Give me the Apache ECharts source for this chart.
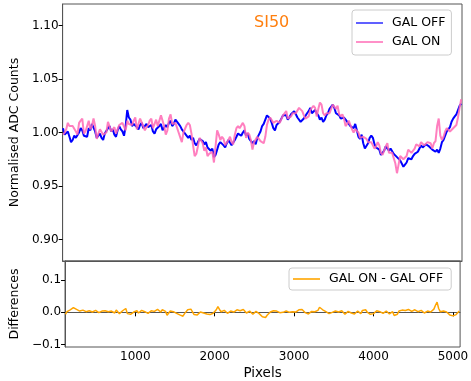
<!DOCTYPE html>
<html>
<head>
<meta charset="utf-8">
<script src="https://cdn.jsdelivr.net/npm/echarts@6/dist/echarts.min.js"></script>
<style>
    html,body{margin:0;padding:0;background:#fff;}
    #chart{width:471px;height:381px;}
</style>
</head>
<body>
<div id="chart"></div>
<script type="text/javascript">
// detector pixel positions (x)
const pixels = [120,140,160,180,200,220,240,260,280,300,320,340,360,380,400,420,440,460,480,500,
    520,540,560,580,600,620,640,660,680,700,720,740,760,780,800,820,840,860,880,900,
    920,940,960,980,1000,1020,1040,1060,1080,1100,1120,1140,1160,1180,1200,1220,1240,1260,1280,1300,
    1320,1340,1360,1380,1400,1420,1440,1460,1480,1500,1520,1540,1560,1580,1600,1620,1640,1660,1680,1700,
    1720,1740,1760,1780,1800,1820,1840,1860,1880,1900,1920,1940,1960,1980,2000,2020,2040,2060,2080,2100,
    2120,2140,2160,2180,2200,2220,2240,2260,2280,2300,2320,2340,2360,2380,2400,2420,2440,2460,2480,2500,
    2520,2540,2560,2580,2600,2620,2640,2660,2680,2700,2720,2740,2760,2780,2800,2820,2840,2860,2880,2900,
    2920,2940,2960,2980,3000,3020,3040,3060,3080,3100,3120,3140,3160,3180,3200,3220,3240,3260,3280,3300,
    3320,3340,3360,3380,3400,3420,3440,3460,3480,3500,3520,3540,3560,3580,3600,3620,3640,3660,3680,3700,
    3720,3740,3760,3780,3800,3820,3840,3860,3880,3900,3920,3940,3960,3980,4000,4020,4040,4060,4080,4100,
    4120,4140,4160,4180,4200,4220,4240,4260,4280,4300,4320,4340,4360,4380,4400,4420,4440,4460,4480,4500,
    4520,4540,4560,4580,4600,4620,4640,4660,4680,4700,4720,4740,4760,4780,4800,4820,4840,4860,4880,4900,
    4920,4940,4960,4980,5000,5020,5040,5060,5080];
// GAL OFF normalised counts
const galOff = [1.004,0.998,0.999,1.001,0.996,0.991,0.993,0.997,0.995,0.994,1.000,1.004,1.002,0.997,0.998,0.996,1.004,1.002,1.008,1.007,
    1.001,0.995,0.997,0.999,0.995,0.993,0.999,0.998,1.004,1.006,1.001,1.003,0.998,0.996,1.002,1.006,1.003,1.001,0.997,1.006,
    1.021,1.014,1.012,1.006,1.008,1.009,1.005,1.003,1.007,1.009,1.004,1.003,1.008,1.005,1.006,1.007,1.001,0.999,1.003,1.002,
    1.006,1.008,1.002,1.003,1.007,1.005,1.009,1.011,1.006,1.008,1.012,1.013,1.008,1.006,1.003,1.004,0.999,0.999,0.995,0.997,
    0.993,0.995,0.990,0.988,0.991,0.994,0.993,0.992,0.989,0.991,0.986,0.987,0.983,0.985,0.977,0.979,0.984,0.989,0.991,0.992,
    0.988,0.986,0.990,0.993,0.992,0.988,0.988,0.993,0.996,0.999,0.999,0.997,1.000,1.002,0.997,0.999,0.994,0.995,0.990,0.992,
    0.989,0.995,0.998,1.001,1.006,1.008,1.012,1.016,1.015,1.013,1.009,1.004,1.002,1.007,1.008,1.010,1.013,1.016,1.015,1.016,
    1.012,1.014,1.017,1.016,1.020,1.017,1.014,1.015,1.010,1.011,1.013,1.014,1.018,1.020,1.023,1.018,1.019,1.021,1.018,1.016,
    1.012,1.014,1.010,1.012,1.016,1.018,1.022,1.021,1.026,1.023,1.018,1.019,1.016,1.013,1.012,1.014,1.012,1.011,1.008,1.006,
    1.005,1.004,1.008,1.002,0.996,0.994,0.998,0.990,0.985,0.986,0.990,0.995,0.997,0.995,0.989,0.986,0.986,0.984,0.979,0.980,
    0.983,0.987,0.986,0.983,0.985,0.984,0.980,0.981,0.977,0.976,0.974,0.973,0.968,0.970,0.972,0.976,0.975,0.975,0.978,0.980,
    0.981,0.982,0.985,0.988,0.986,0.986,0.989,0.990,0.987,0.987,0.984,0.985,0.982,0.984,0.981,0.985,0.991,0.993,0.997,1.001,
    1.002,1.005,1.010,1.013,1.015,1.017,1.021,1.025,1.027];
// GAL ON normalised counts
const galOn = [0.998,1.000,1.003,1.009,1.006,1.006,1.006,1.006,1.001,0.998,1.009,1.011,1.013,0.999,1.001,1.001,1.011,1.003,1.006,1.013,
    1.006,0.994,0.999,1.003,1.003,0.998,0.998,1.000,1.010,1.010,1.001,1.001,1.005,0.999,0.998,1.007,1.008,1.009,1.009,1.002,
    1.011,1.008,1.008,1.007,1.011,1.014,1.003,1.004,1.013,1.013,1.006,1.002,1.005,1.007,1.011,1.013,1.004,1.004,1.012,1.006,
    1.007,1.016,1.016,1.006,0.998,1.002,1.013,1.017,1.008,1.008,1.009,1.008,1.000,1.000,0.991,1.000,1.001,1.007,1.009,1.007,
    0.999,0.988,0.978,0.980,0.987,0.995,0.996,0.990,0.983,0.986,0.978,0.980,0.979,0.982,0.972,0.987,1.002,0.998,0.993,0.996,
    0.994,0.988,0.987,0.993,0.996,0.991,0.989,0.998,1.004,1.006,1.004,1.003,1.009,1.006,0.995,1.000,0.998,0.993,0.984,0.991,
    0.992,0.996,0.994,0.992,0.992,0.990,0.996,1.007,1.012,1.014,1.013,1.009,1.008,1.011,1.010,1.009,1.009,1.016,1.018,1.020,
    1.013,1.014,1.015,1.018,1.017,1.018,1.018,1.023,1.022,1.020,1.016,1.013,1.014,1.015,1.021,1.021,1.025,1.023,1.015,1.022,
    1.028,1.026,1.018,1.016,1.018,1.017,1.018,1.019,1.026,1.026,1.022,1.025,1.017,1.015,1.017,1.013,1.006,1.008,1.011,1.007,
    1.003,1.000,1.003,1.002,1.000,0.995,0.994,0.996,0.997,0.994,0.991,0.992,0.991,0.988,0.985,0.987,0.991,0.988,0.981,0.979,
    0.980,0.987,0.990,0.981,0.980,0.981,0.982,0.971,0.962,0.970,0.978,0.979,0.975,0.974,0.978,0.984,0.984,0.981,0.981,0.985,
    0.989,0.988,0.987,0.991,0.992,0.988,0.987,0.991,0.991,0.990,0.985,0.990,0.992,1.006,1.013,0.997,0.993,0.996,1.001,1.004,
    1.003,1.001,1.002,1.004,1.004,1.007,1.014,1.023,1.031];
// GAL ON - GAL OFF
const differences = [-0.006,0.002,0.004,0.008,0.010,0.015,0.013,0.009,0.006,0.004,0.009,0.007,0.011,0.002,0.003,0.005,0.007,0.001,-0.002,0.006,
    0.005,-0.001,0.002,0.004,0.008,0.005,-0.001,0.002,0.006,0.004,0.000,-0.002,0.007,0.003,-0.004,0.001,0.005,0.008,0.012,-0.004,
    -0.010,-0.006,-0.004,0.001,0.003,0.005,-0.002,0.001,0.006,0.004,0.002,-0.001,-0.003,0.002,0.005,0.006,0.003,0.005,0.009,0.004,
    0.001,0.008,0.014,0.003,-0.009,-0.003,0.004,0.006,0.002,0.000,-0.003,-0.005,-0.008,-0.006,-0.012,-0.004,0.002,0.008,0.014,0.010,
    0.006,-0.007,-0.012,-0.008,-0.004,0.001,0.003,-0.002,-0.006,-0.005,-0.008,-0.007,-0.004,-0.003,-0.005,0.008,0.018,0.009,0.002,0.004,
    0.006,0.002,-0.003,0.000,0.004,0.003,0.001,0.005,0.008,0.007,0.005,0.006,0.009,0.004,-0.002,0.001,0.004,-0.002,-0.006,-0.001,
    0.003,0.001,-0.004,-0.009,-0.014,-0.018,-0.016,-0.009,-0.003,0.001,0.004,0.005,0.006,0.004,0.002,-0.001,-0.004,0.000,0.003,0.004,
    0.001,0.000,-0.002,0.002,-0.003,0.001,0.004,0.008,0.012,0.009,0.003,-0.001,-0.004,-0.005,-0.002,0.003,0.006,0.002,-0.003,0.006,
    0.016,0.012,0.008,0.004,0.002,-0.001,-0.004,-0.002,0.000,0.003,0.004,0.006,0.001,0.002,0.005,-0.001,-0.006,-0.003,0.003,0.001,
    -0.002,-0.004,-0.005,0.000,0.004,0.001,-0.004,0.006,0.012,0.008,0.001,-0.003,-0.006,-0.007,-0.004,0.001,0.005,0.004,0.002,-0.001,
    -0.003,0.000,0.004,-0.002,-0.005,-0.003,0.002,-0.010,-0.015,-0.006,0.004,0.006,0.007,0.004,0.006,0.008,0.009,0.006,0.003,0.005,
    0.008,0.006,0.002,0.003,0.006,0.002,-0.002,0.001,0.004,0.003,0.001,0.005,0.010,0.022,0.032,0.012,0.002,0.003,0.004,0.003,
    0.001,-0.004,-0.008,-0.009,-0.011,-0.010,-0.007,-0.002,0.004];
const xTicks = [1000,2000,3000,4000,5000];
const topTicks = [0.90,0.95,1.00,1.05,1.10];
const bottomTicks = [-0.1,0.0,0.1];

const FONT = "DejaVu Sans";
const FRAME = "#555";

function pairs(ys){
    return pixels.map((x,i)=>[x, ys[i]]);
}

function xAxisCfg(idx, labels){
    return {
        type:'value', gridIndex:idx, min:115, max:5090,
        axisLine:{show:true, lineStyle:{color:FRAME}},
        axisTick:{show:labels, length:4, customValues:xTicks, lineStyle:{color:'#000'}},
        axisLabel:{show:labels, customValues:xTicks, color:'#000', fontFamily:FONT, fontSize:12, margin:4,
            formatter:(v)=>String(v)},
        splitLine:{show:false},
        name: labels ? 'Pixels' : '',
        nameLocation:'middle', nameGap:19,
        nameTextStyle:{color:'#000', fontFamily:FONT, fontSize:13.5}
    };
}

function yAxisCfg(idx, min, max, ticks, digits, name, gap){
    return {
        type:'value', gridIndex:idx, min:min, max:max,
        axisLine:{show:true, lineStyle:{color:FRAME}},
        axisTick:{show:true, length:4, customValues:ticks, lineStyle:{color:'#000'}},
        axisLabel:{customValues:ticks, color:'#000', fontFamily:FONT, fontSize:12, margin:4,
            formatter:(v)=> (v < 0 ? '\u2212' : '') + Math.abs(v).toFixed(digits)},
        splitLine:{show:false},
        name:name, nameLocation:'middle', nameGap:gap,
        nameTextStyle:{color:'#000', fontFamily:FONT, fontSize:12.5}
    };
}

const legendBase = {
    orient:'vertical', icon:'rect', itemWidth:27, itemHeight:2, itemGap:5,
    borderColor:'#ccc', borderWidth:1, borderRadius:3, backgroundColor:'rgba(255,255,255,0.8)',
    textStyle:{color:'#000', fontFamily:FONT, fontSize:12.5, lineHeight:14, padding:[0,0,0,4]}
};

const option = {
    animation:false,
    title:{
        text:'SI50', left:249, top:10,
        textStyle:{color:'#ff7f0e', fontFamily:FONT, fontSize:16, fontWeight:'normal'}
    },
    legend:[
        Object.assign({}, legendBase, {
            left:352, top:10, padding:[6,6,6,4],
            data:[
                {name:'GAL OFF', itemStyle:{color:'#6060ff'}},
                {name:'GAL ON', itemStyle:{color:'#ff90c8'}}
            ]
        }),
        Object.assign({}, legendBase, {
            left:289, top:268, padding:[4,8,4,4],
            data:[{name:'GAL ON - GAL OFF', itemStyle:{color:'#ffb733'}}]
        })
    ],
    grid:[
        {left:53, right:9, top:4, height:257, show:true, borderColor:FRAME, borderWidth:1},
        {left:53, right:9, top:261, height:86, show:true, borderColor:FRAME, borderWidth:1}
    ],
    xAxis:[xAxisCfg(0,false), xAxisCfg(1,true)],
    yAxis:[
        yAxisCfg(0, 0.88, 1.12, topTicks, 2, 'Normalised ADC Counts', 40),
        yAxisCfg(1, -0.108, 0.16, bottomTicks, 1, 'Differences', 40)
    ],
    series:[
        {name:'GAL OFF', type:'line', xAxisIndex:0, yAxisIndex:0, data:pairs(galOff),
            symbol:'none', lineStyle:{color:'#0000ff', width:2}, itemStyle:{color:'#0000ff'}},
        {name:'GAL ON', type:'line', xAxisIndex:0, yAxisIndex:0, data:pairs(galOn),
            symbol:'none', lineStyle:{color:'#ff69b4', width:2, opacity:0.85}, itemStyle:{color:'#ff69b4'}},
        {name:'GAL ON - GAL OFF', type:'line', xAxisIndex:1, yAxisIndex:1, data:pairs(differences),
            symbol:'none', lineStyle:{color:'#ffa500', width:1.5}, itemStyle:{color:'#ffa500'}}
    ]
};

const chart = echarts.init(document.getElementById('chart'), null, {renderer:'canvas'});
chart.setOption(option);
</script>
</body>
</html>
